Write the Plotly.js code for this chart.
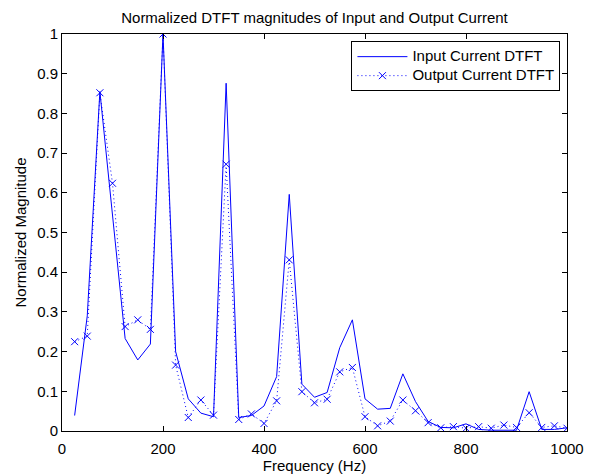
<!DOCTYPE html>
<html>
<head>
<meta charset="utf-8">
<script src="https://cdn.plot.ly/plotly-3.0.1.min.js"></script>
<style>html,body{margin:0;padding:0;background:#fff;}#chart{width:592px;height:474px;}</style>
</head>
<body>
<div id="chart"></div>
<script>
const freq = [25,50,75,100,125,150,175,200,225,250,275,300,325,350,375,400,425,450,475,500,525,550,575,600,625,650,675,700,725,750,775,800,825,850,875,900,925,950,975,1000];
const inputMag = [0.039,0.29,0.855,0.55,0.233,0.179,0.219,1.0,0.20,0.081,0.045,0.036,0.876,0.034,0.039,0.063,0.137,0.596,0.118,0.085,0.097,0.21,0.28,0.081,0.055,0.057,0.144,0.074,0.024,0.009,0.008,0.018,0.004,0.002,0.002,0.002,0.099,0.004,0.004,0.008];
const outputMag = [0.225,0.239,0.852,0.624,0.263,0.28,0.256,1.0,0.166,0.034,0.078,0.04,0.672,0.029,0.043,0.019,0.076,0.431,0.099,0.071,0.08,0.149,0.16,0.036,0.013,0.025,0.078,0.051,0.021,0.008,0.011,0.007,0.011,0.007,0.015,0.009,0.046,0.009,0.013,0.007];
const seriesNames = ['Input Current DTFT','Output Current DTFT'];
const titleText = 'Normalized DTFT magnitudes of Input and Output Current';
const xLabel = 'Frequency (Hz)';
const yLabel = 'Normalized Magnitude';
const xTicks = [0,200,400,600,800,1000];
const yTicks = [0,0.1,0.2,0.3,0.4,0.5,0.6,0.7,0.8,0.9,1];
const yTickText = ['0','0.1','0.2','0.3','0.4','0.5','0.6','0.7','0.8','0.9','1'];

const FONT = 'Liberation Sans, Arial, Helvetica, sans-serif';
const FS = 15;
const legName = s => '<span style="font-size:15px">' + s + '</span>';
const traces = [
  {x: freq, y: inputMag, name: legName(seriesNames[0]), type: 'scatter', mode: 'lines',
   line: {color: '#0000ff', width: 1}},
  {x: freq, y: outputMag, name: legName(seriesNames[1]), type: 'scatter', mode: 'lines+markers',
   line: {color: '#0000ff', width: 1, dash: '1px,3px'},
   marker: {symbol: 'x-thin-open', size: 7, color: '#0000ff', line: {color: '#0000ff', width: 1}}}
];
const axisCommon = {
  showline: true, mirror: 'ticks', linecolor: '#000', linewidth: 1,
  ticks: 'inside', ticklen: 5, tickcolor: '#000', showgrid: false, zeroline: false,
  tickfont: {family: FONT, size: FS, color: '#000'}
};
const layout = {
  width: 592, height: 474,
  margin: {l: 62, r: 25, t: 34, b: 43},
  paper_bgcolor: '#fff', plot_bgcolor: '#fff',
  title: {text: titleText, xref: 'paper', x: 0.5, xanchor: 'center', yref: 'container', y: 0.963, yanchor: 'middle',
    font: {family: FONT, size: FS, color: '#000'}},
  xaxis: Object.assign({}, axisCommon, {range: [0, 1000], tickvals: xTicks, ticklabelstandoff: 4,
    title: {text: xLabel, standoff: 0, font: {family: FONT, size: FS, color: '#000'}}}),
  yaxis: Object.assign({}, axisCommon, {range: [0, 1], tickvals: yTicks, ticktext: yTickText,
    title: {text: yLabel, standoff: 6, font: {family: FONT, size: FS, color: '#000'}}}),
  showlegend: true,
  legend: {x: 0.987, xanchor: 'right', y: 0.982, yanchor: 'top', bgcolor: '#fff',
    bordercolor: '#000', borderwidth: 1, tracegroupgap: 0, itemwidth: 50,
    font: {family: FONT, size: 10, color: '#000'}}
};
Plotly.newPlot('chart', traces, layout, {displayModeBar: false, staticPlot: true});
</script>
</body>
</html>
